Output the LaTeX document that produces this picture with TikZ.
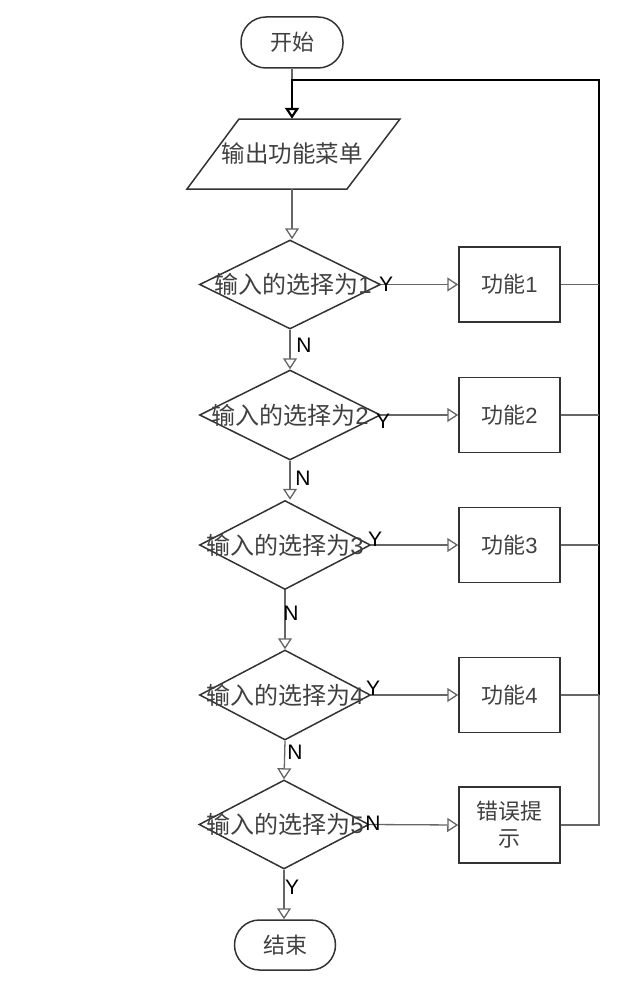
\documentclass[tikz,border=0pt]{standalone}
\usepackage{fontspec}
\setmainfont{Liberation Sans}
\newfontfamily\cjk{Noto Sans CJK SC}
\usetikzlibrary{shapes.geometric,arrows.meta}
\definecolor{shapeline}{HTML}{333333}
\definecolor{conline}{HTML}{666666}
\tikzset{
  x=1pt,y=-1pt,
  shp/.style={draw=shapeline,line width=1.5pt,text=black!75},
  term/.style={shp,rounded corners=25pt,minimum width=102pt,minimum height=51pt,inner sep=0pt,font=\cjk\fontsize{22}{26}\selectfont},
  dia/.style={shp,diamond,minimum width=181pt,minimum height=89pt,inner sep=0pt},
  dtext/.style={font=\fontsize{24}{27}\selectfont,text=black!75,inner sep=0pt},
  fbox/.style={shp,minimum width=101pt,minimum height=75pt,inner sep=0pt,align=center,font=\fontsize{22}{27}\selectfont},
  con/.style={draw=conline,line width=1.3pt},
  tip/.style={-{Triangle[open,length=11pt,width=14pt,fill=white]}},
  arr/.style={con,tip},
  yn/.style={font=\fontsize{21}{24}\selectfont,inner sep=0pt,text=black}
}
\begin{document}
\begin{tikzpicture}
\useasboundingbox (0,0) rectangle (624,990);
% terminals
\node[term] (start) at (292,42.5) {开始};
\node[term,minimum width=101pt,minimum height=50pt] (stop) at (285,945) {结束};
% menu parallelogram
\node[minimum width=160pt,minimum height=70pt,inner sep=0pt,font=\cjk\fontsize{23.5}{27}\selectfont,text=black!75] (menu) at (292,154) {输出功能菜单};
\draw[shp] (239,119) -- (400,119) -- (347,189) -- (187,189) -- cycle;
% diamonds
\node[dia] (d1) at (290,284.5) {};
\node[dia,minimum height=90pt] (d2) at (290,415) {};
\node[dia,minimum width=171pt] (d3) at (285,545) {};
\node[dia,minimum width=171pt,minimum height=90pt] (d4) at (285,695) {};
\node[dia,minimum width=170pt] (d5) at (284,824.5) {};
\node[dtext] (t1) at (293,284) {{\cjk 输入的选择为}1};
\node[dtext] (t2) at (290,415) {{\cjk 输入的选择为}2};
\node[dtext] (t3) at (285,545) {{\cjk 输入的选择为}3};
\node[dtext] (t4) at (285,695) {{\cjk 输入的选择为}4};
\node[dtext] (t5) at (285,824) {{\cjk 输入的选择为}5};
% boxes
\node[fbox] (f1) at (509.5,284.5) {{\cjk 功能}1};
\node[fbox] (f2) at (509.5,415) {{\cjk 功能}2};
\node[fbox] (f3) at (509.5,545) {{\cjk 功能}3};
\node[fbox] (f4) at (509.5,695) {{\cjk 功能}4};
\node[fbox,minimum height=76pt,font=\cjk\fontsize{22}{27}\selectfont] (f5) at (509.5,825) {错误提\\示};
% bus coordinates
\coordinate (top) at (292,80);
\coordinate (bt) at (599,80);
\coordinate (b1) at (599,284.5);
\coordinate (b2) at (599,415);
\coordinate (b3) at (599,545);
\coordinate (b4) at (599,695);
\coordinate (b5) at (599,825);
% vertical flow
\draw[con] (start.south) -- (top);
\draw[line width=2.2pt,tip] (b4) -- (bt) -- (top) -- (menu.north);
\draw[arr] (menu.south) -- (menu.south |- d1.north);
\draw[arr] (d1.south) -- (d2.north);
\draw[arr] (d2.south) -- (d2.south |- d3.north);
\draw[arr] (d3.south) -- (d4.north);
\draw[arr] (d4.south) -- (d5.north);
\draw[arr] (d5.south) -- (d5.south |- stop.north);
% horizontal
\draw[arr] (d1.east) -- (f1.west);
\draw[arr] (d2.east) -- (f2.west);
\draw[arr] (d3.east) -- (f3.west);
\draw[arr] (d4.east) -- (f4.west);
\draw[arr] (d5.east) -- (f5.west);
\draw[con] (f1.east) -- (b1);
\draw[con] (f2.east) -- (b2);
\draw[con] (f3.east) -- (b3);
\draw[con] (f4.east) -- (b4);
\draw[con] (f5.east) -- (b5) -- (b4);
% Y/N labels
\node[yn] (y1) at (386,284) {Y};
\node[yn] (n1) at (304,345) {N};
\node[yn] (y2) at (383,421) {Y};
\node[yn] (n2) at (303,478) {N};
\node[yn] (y3) at (375,539) {Y};
\node[yn] (n3) at (291,613) {N};
\node[yn] (y4) at (373,688) {Y};
\node[yn] (n4) at (295,752) {N};
\node[yn] (n5) at (373,823) {N};
\node[yn] (y5) at (292,887) {Y};
\end{tikzpicture}
\end{document}
